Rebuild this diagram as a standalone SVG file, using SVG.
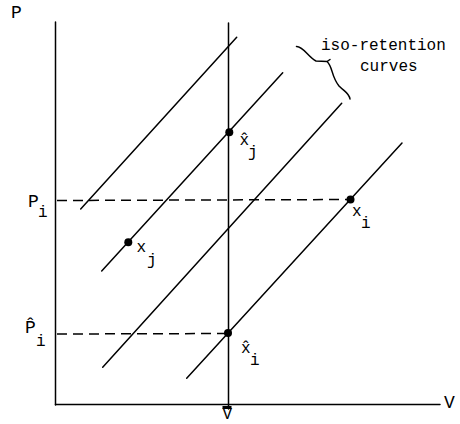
<svg xmlns="http://www.w3.org/2000/svg" width="460" height="424" viewBox="0 0 460 424">
<style>
.ln{stroke:#000;stroke-width:1.5;fill:none;stroke-linecap:round}
.ds{stroke:#000;stroke-width:1.5;fill:none;stroke-dasharray:10 6}
.t{font-family:"Liberation Mono",monospace;font-size:16px;fill:#000}
.b{font-family:"Liberation Mono",monospace;font-size:18px;fill:#000}
</style>
<rect width="460" height="424" fill="#fff"/>
<g id="axes">
<line class="ln" x1="55.5" y1="22" x2="55.5" y2="405"/>
<line class="ln" x1="55.5" y1="404.5" x2="440" y2="404.5"/>
<text class="b" x="11" y="18">P</text>
<text class="b" x="444" y="408">V</text>
</g>
<g id="vbar">
<line class="ln" x1="228.5" y1="23" x2="228.5" y2="409"/>
<rect x="222.5" y="406" width="9" height="3" fill="#000"/>
<text class="t" x="222.5" y="419">V</text>
</g>
<g id="connectors">
<line class="ln" x1="80.7" y1="209" x2="236.7" y2="37.3"/>
<line class="ln" x1="101.7" y1="271" x2="282.7" y2="72.7"/>
<line class="ln" x1="102.7" y1="367.3" x2="341.7" y2="103.3"/>
<line class="ln" x1="186.7" y1="378.3" x2="402" y2="143"/>
<line class="ds" x1="57" y1="200.5" x2="350" y2="199.5"/>
<line class="ds" x1="57" y1="334" x2="228" y2="333.5"/>
</g>
<g id="brace">
<path class="ln" d="M296.5,46.5 C303,46 308,57 316,61 L327,61.5 L330,59.5 M327,61.5 C333,67 331,76 339,86 C345,92 349,93 350,99"/>
<text class="t" x="321" y="50">iso-retention</text>
<text class="t" x="360" y="71">curves</text>
</g>
<g id="Pi">
<text class="b" x="28" y="207">P</text>
<text class="t" x="38" y="217">i</text>
</g>
<g id="Phati">
<text class="b" x="25" y="333">P̂</text>
<text class="t" x="36" y="346">i</text>
</g>
<g id="xi">
<circle cx="350.5" cy="199.5" r="4"/>
<text class="t" x="352" y="216">x</text>
<text class="t" x="361" y="228">i</text>
</g>
<g id="xj">
<circle cx="128.3" cy="242.3" r="4"/>
<text class="t" x="136.5" y="251.5">x</text>
<text class="t" x="147" y="265">j</text>
</g>
<g id="xhatj">
<circle cx="229.3" cy="132.3" r="4"/>
<text class="t" x="239.5" y="145">x̂</text>
<text class="t" x="248" y="157">j</text>
</g>
<g id="xhati">
<circle cx="228" cy="333" r="4"/>
<text class="t" x="241" y="353">x̂</text>
<text class="t" x="250" y="365">i</text>
</g>
</svg>
